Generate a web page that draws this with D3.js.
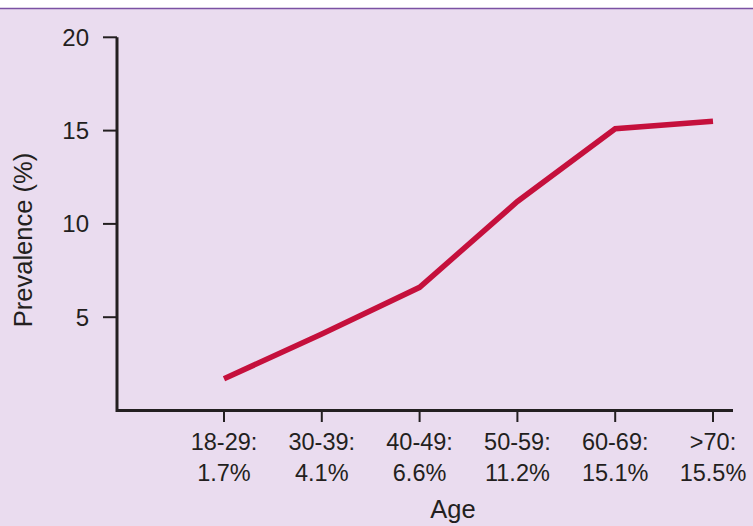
<!DOCTYPE html>
<html>
<head>
<meta charset="utf-8">
<script src="https://cdn.jsdelivr.net/npm/d3@7/dist/d3.min.js"></script>
<style>
  html, body { margin: 0; padding: 0; background: #ffffff; }
  svg { display: block; }
  text { font-family: "Liberation Sans", Arial, Helvetica, sans-serif; fill: #231f20; }
</style>
</head>
<body>
<script>
const ageGroups = ["18-29:", "30-39:", "40-49:", "50-59:", "60-69:", ">70:"];
const prevalenceLabels = ["1.7%", "4.1%", "6.6%", "11.2%", "15.1%", "15.5%"];
const prevalence = [1.7, 4.1, 6.6, 11.2, 15.1, 15.5];
const yTicks = [5, 10, 15, 20];

const W = 753, H = 526;
const svg = d3.select("body").append("svg").attr("width", W).attr("height", H);

// background panel
svg.append("rect").attr("x", 0).attr("y", 8).attr("width", W).attr("height", H - 8).attr("fill", "#eadcef");
svg.append("line").attr("x1", 0).attr("x2", W).attr("y1", 8.5).attr("y2", 8.5)
  .attr("stroke", "#7b52a3").attr("stroke-width", 1.5);

const x0 = 117, yBase = 410.5;
const x = d3.scalePoint().domain(ageGroups).range([224, 713]);
const y = d3.scaleLinear().domain([0, 20]).range([yBase, 37.3]);

// y axis ticks
const yg = svg.append("g");
yTicks.forEach(t => {
  yg.append("line").attr("x1", 103).attr("x2", x0).attr("y1", y(t)).attr("y2", y(t))
    .attr("stroke", "#231f20").attr("stroke-width", 2);
  yg.append("text").attr("x", 89).attr("y", y(t)).attr("dy", "0.35em")
    .attr("text-anchor", "end").attr("font-size", 24).text(t);
});

// x axis ticks
const xg = svg.append("g");
ageGroups.forEach((g, i) => {
  const px = x(g);
  xg.append("line").attr("x1", px).attr("x2", px).attr("y1", yBase).attr("y2", 422)
    .attr("stroke", "#231f20").attr("stroke-width", 2);
  xg.append("text").attr("x", px).attr("y", 450).attr("text-anchor", "middle")
    .attr("font-size", 23.5).text(g);
  xg.append("text").attr("x", px).attr("y", 481).attr("text-anchor", "middle")
    .attr("font-size", 23.5).text(prevalenceLabels[i]);
});

// axis lines
svg.append("path")
  .attr("d", `M${x0},${y(20)} V${yBase} H733`)
  .attr("fill", "none").attr("stroke", "#231f20").attr("stroke-width", 3);

// line
const line = d3.line().x((d, i) => x(ageGroups[i])).y(d => y(d));
svg.append("path").datum(prevalence).attr("d", line)
  .attr("fill", "none").attr("stroke", "#c5103c").attr("stroke-width", 5.5)
  .attr("stroke-linejoin", "miter");

// titles
svg.append("text").attr("x", 453).attr("y", 518).attr("text-anchor", "middle")
  .attr("font-size", 25.5).text("Age");
svg.append("text").attr("transform", `translate(32,${240}) rotate(-90)`)
  .attr("text-anchor", "middle").attr("font-size", 25.5).text("Prevalence (%)");
</script>
</body>
</html>
